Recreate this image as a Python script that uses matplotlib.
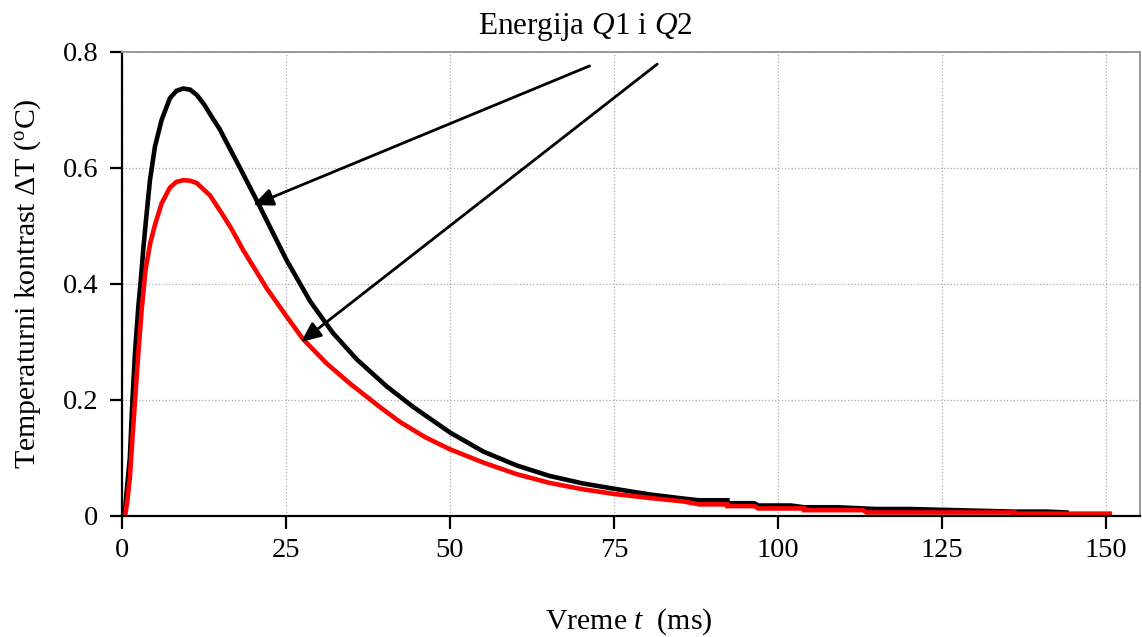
import matplotlib
matplotlib.use("Agg")
import matplotlib.pyplot as plt

plt.rcParams['font.family'] = ['Liberation Serif', 'DejaVu Serif']
plt.rcParams['mathtext.fontset'] = 'custom'
plt.rcParams['mathtext.rm'] = 'Liberation Serif'
plt.rcParams['mathtext.it'] = 'Liberation Serif:italic'

# Q1 (black) curve
t_q1 = [0, 0.4, 0.7, 1.2, 1.6, 1.98, 2.49, 2.9, 3.25, 3.66, 4.27, 5.03,
        6.05, 7.3, 8.3, 9.35, 10.4, 11.4, 12.5, 13.7, 14.9, 16.0, 18.0, 20.5,
        25.1, 28.7, 32.2, 35.8, 40.3, 44.4, 50, 55.1, 60.2, 65.2,
        70.3, 75, 80.5, 85.6, 88, 92.3, 92.3, 96.4, 97, 102, 104, 109, 115,
        120, 136, 141, 144]
dT_q1 = [0, 0, 0.04, 0.10, 0.20, 0.28, 0.36, 0.41, 0.46, 0.51, 0.579, 0.637,
         0.683, 0.72, 0.733, 0.737, 0.735, 0.726, 0.71, 0.688, 0.667, 0.643,
         0.600, 0.545, 0.441, 0.370, 0.315, 0.270, 0.224, 0.188,
         0.144, 0.111, 0.087, 0.069, 0.056, 0.047, 0.037, 0.030, 0.027, 0.027,
         0.022, 0.022, 0.018, 0.018, 0.015, 0.015, 0.012, 0.012, 0.0075,
         0.0075, 0.006]

# Q2 (red) curve
t_q2 = [0, 0.45, 0.75, 1.2, 1.6, 2.0, 2.49, 3.0, 3.6, 4.3, 5.03, 6.05, 7.3,
        8.3, 9.35, 10.4, 11.4, 13.4, 15.2, 16.7, 18.5, 22.1, 25.1, 27.6,
        31.2, 34.8, 39.3, 42.4, 46.2, 50, 55.1, 60.2, 65.2, 70.3, 75, 80.5,
        85.6, 88, 92.3, 92.3, 96.4, 97, 104, 104, 113, 113.5, 136, 136, 150.6]
dT_q2 = [0, 0, 0.02, 0.065, 0.135, 0.20, 0.28, 0.355, 0.425, 0.47, 0.502,
         0.539, 0.566, 0.576, 0.579, 0.578, 0.574, 0.553, 0.522, 0.495, 0.458,
         0.392, 0.344, 0.305, 0.263, 0.228, 0.188, 0.162, 0.136, 0.115, 0.092,
         0.072, 0.057, 0.046, 0.038, 0.031, 0.025, 0.02, 0.02, 0.017, 0.017,
         0.013, 0.013, 0.01, 0.01, 0.006, 0.006, 0.004, 0.004]

x_ticks = [0, 25, 50, 75, 100, 125, 150]
y_ticks = [0, 0.2, 0.4, 0.6, 0.8]
y_labels = ['0', '0.2', '0.4', '0.6', '0.8']

fig = plt.figure(figsize=(11.42, 6.37), dpi=100)
ax = fig.add_axes([0.1068, 0.19, 0.8914, 0.7284])

ax.plot(t_q1, dT_q1, color='black', lw=3.3, solid_joinstyle='miter')
ax.plot(t_q2, dT_q2, color='red', lw=3.3, solid_joinstyle='miter')

ax.set_xlim(0, 155.2)
ax.set_ylim(0, 0.8)
ax.set_xticks(x_ticks)
ax.set_yticks(y_ticks)
ax.set_yticklabels(y_labels)
ax.grid(True, color='#aaaaaa', ls=':', lw=0.9)
ax.set_axisbelow(True)

for s in ['left', 'bottom']:
    ax.spines[s].set_color('black')
    ax.spines[s].set_linewidth(1.6)
for s in ['top', 'right']:
    ax.spines[s].set_color('#999999')
    ax.spines[s].set_linewidth(1.4)

ax.tick_params(axis='both', direction='out', length=9, width=1.6,
               labelsize=20.5, colors='black')
ax.tick_params(axis='y', pad=8)
ax.tick_params(axis='x', pad=7)

ax.set_xlabel('Vreme $t$  (ms)', fontsize=21.5, va='center')
ax.xaxis.set_label_coords(0.498, -0.228)
ax.set_ylabel(r'Temperaturni kontrast $\Delta$T ($^{\rm o}$C)', fontsize=21.5,
              va='center')
ax.yaxis.set_label_coords(-0.0923, 0.5)

fig.text(585 / 1142, 1 - 27 / 637, 'Energija $Q$1 i $Q$2', fontsize=22.5,
         ha='center', va='center')

arrow = dict(arrowstyle='-|>,head_length=0.5,head_width=0.22', lw=2,
             color='black', mutation_scale=24, shrinkA=0, shrinkB=0)
ax.annotate('', xy=(20.0, 0.536), xytext=(71.3, 0.776), arrowprops=arrow)
ax.annotate('', xy=(27.3, 0.300), xytext=(81.6, 0.779), arrowprops=arrow)

fig.savefig('out.png', dpi=100)
